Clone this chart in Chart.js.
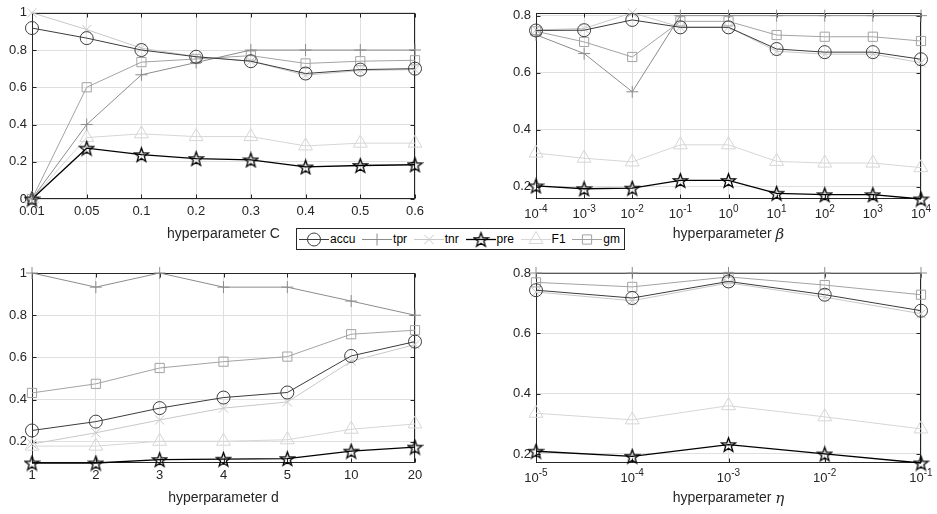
<!DOCTYPE html>
<html>
<head>
<meta charset="utf-8">
<script src="https://cdn.jsdelivr.net/npm/chart.js@4/dist/chart.umd.min.js"></script>
<style>
  html, body { margin: 0; padding: 0; background: #fff; }
  #wrap { position: relative; width: 937px; height: 514px; overflow: hidden; }
  #wrap canvas.plot { position: absolute; left: 0; top: 0; }
  #legend {
    position: absolute; left: 296px; top: 228px; width: 329px; height: 22px;
    box-sizing: border-box; border: 1px solid #262626; background: #fff;
    display: flex; align-items: center; justify-content: space-between;
    padding: 0 4px 0 2px; z-index: 5;
    font: 12px "Liberation Sans", Arial, sans-serif; color: #000;
  }
  #legend .item { display: flex; align-items: center; }
  #legend .item span { margin-left: 1px; }
</style>
</head>
<body>
<div id="wrap">
  <canvas id="plotC" class="plot" width="937" height="514"></canvas>
  <canvas id="plotBeta" class="plot" width="937" height="514"></canvas>
  <canvas id="plotD" class="plot" width="937" height="514"></canvas>
  <canvas id="plotEta" class="plot" width="937" height="514"></canvas>
  <div id="legend"></div>
</div>
<script>
// metric names, shared by all four panels
const metricNames = ['accu', 'tpr', 'tnr', 'pre', 'F1', 'gm'];

// hyperparameter C
const cLabels = ['0.01', '0.05', '0.1', '0.2', '0.3', '0.4', '0.5', '0.6'];
const cAccu = [0.918, 0.864, 0.800, 0.764, 0.740, 0.674, 0.695, 0.700];
const cTpr  = [0, 0.400, 0.667, 0.733, 0.800, 0.800, 0.800, 0.800];
const cTnr  = [1, 0.910, 0.810, 0.765, 0.740, 0.665, 0.690, 0.695];
const cPre  = [0, 0.273, 0.238, 0.217, 0.210, 0.172, 0.180, 0.184];
const cF1   = [0, 0.330, 0.350, 0.335, 0.335, 0.285, 0.300, 0.300];
const cGm   = [0, 0.600, 0.735, 0.752, 0.770, 0.728, 0.740, 0.745];
const cTicks = [0, 0.2, 0.4, 0.6, 0.8, 1];

// hyperparameter beta (exponents of 10)
const betaLabels = ['-4', '-3', '-2', '-1', '0', '1', '2', '3', '4'];
const betaAccu = [0.748, 0.749, 0.785, 0.759, 0.759, 0.683, 0.672, 0.672, 0.647];
const betaTpr  = [0.733, 0.667, 0.533, 0.800, 0.800, 0.800, 0.800, 0.800, 0.800];
const betaTnr  = [0.750, 0.755, 0.810, 0.760, 0.760, 0.675, 0.665, 0.665, 0.635];
const betaPre  = [0.203, 0.193, 0.195, 0.222, 0.222, 0.177, 0.172, 0.172, 0.157];
const betaF1   = [0.318, 0.300, 0.287, 0.347, 0.347, 0.289, 0.283, 0.283, 0.267];
const betaGm   = [0.745, 0.708, 0.655, 0.780, 0.780, 0.732, 0.726, 0.726, 0.711];
const betaTicks = [0.2, 0.4, 0.6, 0.8];

// hyperparameter d
const dLabels = ['1', '2', '3', '4', '5', '10', '20'];
const dAccu = [0.254, 0.296, 0.360, 0.410, 0.434, 0.607, 0.675];
const dTpr  = [1, 0.933, 1, 0.933, 0.933, 0.867, 0.800];
const dTnr  = [0.190, 0.243, 0.304, 0.360, 0.389, 0.582, 0.661];
const dPre  = [0.100, 0.100, 0.116, 0.118, 0.121, 0.156, 0.175];
const dF1   = [0.180, 0.180, 0.203, 0.203, 0.210, 0.260, 0.285];
const dGm   = [0.432, 0.475, 0.550, 0.580, 0.604, 0.710, 0.729];
const dTicks = [0.2, 0.4, 0.6, 0.8, 1];

// hyperparameter eta (exponents of 10)
const etaLabels = ['-5', '-4', '-3', '-2', '-1'];
const etaAccu = [0.743, 0.717, 0.772, 0.728, 0.675];
const etaTpr  = [0.800, 0.800, 0.800, 0.800, 0.800];
const etaTnr  = [0.737, 0.708, 0.767, 0.720, 0.665];
const etaPre  = [0.209, 0.192, 0.231, 0.200, 0.170];
const etaF1   = [0.335, 0.313, 0.360, 0.323, 0.283];
const etaGm   = [0.769, 0.754, 0.787, 0.760, 0.728];
const etaTicks = [0.2, 0.4, 0.6, 0.8];

// look
const textColor = '#262626';
const gridColor = '#dfdfdf';
const fontFamily = '"Liberation Sans", Arial, Helvetica, sans-serif';
const lineColors = ['#3c3c3c', '#8c8c8c', '#c8c8c8', '#000000', '#d6d6d6', '#a3a3a3'];
const markerRadius = [6.5, 6, 6.5, 7, 8, 6.5];

Chart.defaults.font.family = fontFamily;
Chart.defaults.font.size = 13;
Chart.defaults.color = textColor;

// pentagram marker for "pre"
function makeStar() {
  const c = document.createElement('canvas');
  c.width = 17; c.height = 17;
  const g = c.getContext('2d');
  g.beginPath();
  for (let k = 0; k < 10; k++) {
    const r = k % 2 ? 3.0 : 7.4;
    const a = -Math.PI / 2 + k * Math.PI / 5;
    const px = 8.5 + r * Math.cos(a), py = 9.2 + r * Math.sin(a);
    if (k) g.lineTo(px, py); else g.moveTo(px, py);
  }
  g.closePath();
  g.lineWidth = 1.3;
  g.strokeStyle = '#000';
  g.stroke();
  return c;
}
const starMarker = makeStar();
const markerStyles = ['circle', 'cross', 'crossRot', starMarker, 'triangle', 'rect'];

function makeDatasets(series) {
  return series.map((values, i) => ({
    label: metricNames[i],
    data: values,
    borderColor: lineColors[i],
    borderWidth: i === 3 ? 1.3 : 1,
    backgroundColor: 'rgba(0,0,0,0)',
    pointStyle: markerStyles[i],
    pointRadius: markerRadius[i],
    pointBorderColor: lineColors[i],
    pointBackgroundColor: 'rgba(0,0,0,0)',
    pointBorderWidth: 1,
    tension: 0,
    clip: false
  }));
}

// box, inward tick marks, 10^n tick labels and titles with an italic symbol
const tickLen = 4;
const axesBox = {
  id: 'axesBox',
  beforeDatasetsDraw(chart) {
    const { ctx, chartArea: a, scales } = chart;
    const l = Math.round(a.left) + 0.5, r = Math.round(a.right) - 0.5;
    const t = Math.round(a.top) + 0.5, b = Math.round(a.bottom) - 0.5;
    ctx.save();
    ctx.strokeStyle = textColor;
    ctx.lineWidth = 1;
    ctx.beginPath();
    scales.x.ticks.forEach((tk, i) => {
      const px = Math.round(scales.x.getPixelForTick(i)) + 0.5;
      ctx.moveTo(px, b); ctx.lineTo(px, b - tickLen);
      ctx.moveTo(px, t); ctx.lineTo(px, t + tickLen);
    });
    scales.y.ticks.forEach(tk => {
      const py = Math.round(scales.y.getPixelForValue(tk.value)) + 0.5;
      ctx.moveTo(l, py); ctx.lineTo(l + tickLen, py);
      ctx.moveTo(r, py); ctx.lineTo(r - tickLen, py);
    });
    ctx.stroke();
    ctx.strokeRect(l, t, r - l, b - t);
    ctx.restore();
  },
  afterDraw(chart, args, opts) {
    if (!opts.powers) return;
    const { ctx, chartArea: a, scales } = chart;
    ctx.save();
    ctx.fillStyle = textColor;
    ctx.textBaseline = 'alphabetic';
    ctx.textAlign = 'left';
    chart.data.labels.forEach((e, i) => {
      const px = scales.x.getPixelForTick(i);
      ctx.font = '13px ' + fontFamily;
      const w1 = ctx.measureText('10').width;
      ctx.font = '10px ' + fontFamily;
      const w2 = ctx.measureText(e).width;
      const left = px - (w1 + w2) / 2;
      const base = a.bottom + 19;
      ctx.font = '13px ' + fontFamily;
      ctx.fillText('10', left, base);
      ctx.font = '10px ' + fontFamily;
      ctx.fillText(e, left + w1, base - 6);
    });
    // axis title: plain words followed by an italic greek letter
    const words = 'hyperparameter ';
    ctx.font = '14px ' + fontFamily;
    const w1 = ctx.measureText(words).width;
    ctx.font = 'italic 15px "DejaVu Serif", "Liberation Serif", serif';
    const w2 = ctx.measureText(opts.symbol).width;
    const left = (a.left + a.right) / 2 - (w1 + w2) / 2;
    const base = a.bottom + 39;
    ctx.font = '14px ' + fontFamily;
    ctx.fillText(words, left, base);
    ctx.font = 'italic 15px "DejaVu Serif", "Liberation Serif", serif';
    ctx.fillText(opts.symbol, left + w1, base + 1);
    ctx.restore();
  }
};

function makePanel(canvasId, labels, series, yMin, yMax, yTicks, title, area, symbol) {
  const powers = !!symbol;
  const yWidth = area.left > 100 ? 40 : area.left;
  const xHeight = 50;
  return new Chart(document.getElementById(canvasId), {
    type: 'line',
    data: { labels: labels, datasets: makeDatasets(series) },
    plugins: [axesBox],
    options: {
      responsive: false,
      animation: false,
      events: [],
      layout: {
        padding: {
          left: area.left - yWidth,
          top: area.top,
          right: 937 - area.right,
          bottom: 514 - area.bottom - xHeight
        }
      },
      plugins: {
        legend: { display: false },
        tooltip: { enabled: false },
        axesBox: { powers: powers, symbol: symbol }
      },
      scales: {
        x: {
          type: 'category',
          offset: false,
          grid: { color: gridColor, drawTicks: false },
          border: { display: false },
          ticks: {
            padding: 5,
            maxRotation: 0,
            autoSkip: false,
            callback: function (v, i) { return powers ? '' : labels[i]; }
          },
          title: {
            display: !powers,
            text: title,
            font: { size: 14 },
            color: textColor,
            padding: { top: 0, bottom: 6 }
          },
          afterFit: s => { s.height = xHeight; }
        },
        y: {
          min: yMin,
          max: yMax,
          grid: { color: gridColor, drawTicks: false },
          border: { display: false },
          ticks: {
            padding: 5,
            callback: v => String(+Number(v).toFixed(1))
          },
          afterBuildTicks: s => { s.ticks = yTicks.map(v => ({ value: v })); },
          afterFit: s => { s.width = yWidth; }
        }
      }
    }
  });
}

var chartC = makePanel('plotC', cLabels, [cAccu, cTpr, cTnr, cPre, cF1, cGm],
  0, 1, cTicks, 'hyperparameter C', { left: 32, top: 9, right: 415, bottom: 199 }, null);
var chartBeta = makePanel('plotBeta', betaLabels, [betaAccu, betaTpr, betaTnr, betaPre, betaF1, betaGm],
  0.157, 0.81, betaTicks, 'hyperparameter \u03B2', { left: 536, top: 9, right: 921, bottom: 199 }, '\u03B2');
var chartD = makePanel('plotD', dLabels, [dAccu, dTpr, dTnr, dPre, dF1, dGm],
  0.1, 1, dTicks, 'hyperparameter d', { left: 32, top: 273, right: 415, bottom: 463 }, null);
var chartEta = makePanel('plotEta', etaLabels, [etaAccu, etaTpr, etaTnr, etaPre, etaF1, etaGm],
  0.17, 0.8, etaTicks, 'hyperparameter \u03B7', { left: 536, top: 273, right: 921, bottom: 463 }, '\u03B7');

// shared legend: line sample with marker, then name
const legendBox = document.getElementById('legend');
metricNames.forEach((name, i) => {
  const item = document.createElement('div');
  item.className = 'item';
  const c = document.createElement('canvas');
  c.width = 30; c.height = 18;
  const g = c.getContext('2d');
  g.strokeStyle = lineColors[i];
  g.fillStyle = 'rgba(0,0,0,0)';
  g.lineWidth = i === 3 ? 1.3 : 1;
  g.beginPath();
  g.moveTo(0, 9.5); g.lineTo(30, 9.5);
  g.stroke();
  g.lineWidth = 1;
  Chart.helpers.drawPoint(g, { pointStyle: markerStyles[i], rotation: 0, radius: markerRadius[i], borderWidth: 1 }, 15, 9.5);
  const s = document.createElement('span');
  s.textContent = name;
  item.appendChild(c);
  item.appendChild(s);
  legendBox.appendChild(item);
});
</script>
</body>
</html>
